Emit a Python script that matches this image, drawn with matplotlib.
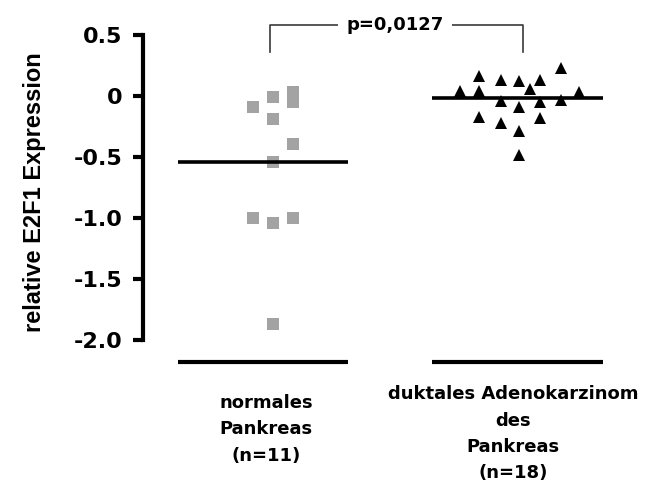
# Dot plot: relative E2F1 expression, normal pancreas vs ductal adenocarcinoma

import matplotlib
matplotlib.use("Agg")
import matplotlib.pyplot as plt

# Values
groups = [1, 2]
group_labels = ["normales\nPankreas\n(n=11)",
                "duktales Adenokarzinom\ndes\nPankreas\n(n=18)"]

normal_offset = [-0.08, 0.0, 0.08, 0.08, 0.0, 0.08, 0.0, -0.08, 0.0, 0.08, 0.0]
normal_values = [-0.09, -0.01, 0.03, -0.05, -0.19, -0.39, -0.54, -1.0, -1.04, -1.0, -1.87]

tumor_offset = [-0.16, -0.073, 0.0, 0.085, 0.17,
                -0.24, -0.16, 0.045, 0.244,
                -0.073, 0.085, 0.17, 0.0,
                -0.16, -0.073, 0.085, 0.0, 0.0]
tumor_values = [0.16, 0.13, 0.12, 0.13, 0.23,
                0.04, 0.04, 0.06, 0.03,
                -0.04, -0.05, -0.03, -0.09,
                -0.17, -0.22, -0.18, -0.29, -0.48]

group_means = [-0.54, -0.02]
yticks = [0.5, 0, -0.5, -1.0, -1.5, -2.0]
ytick_labels = ["0.5", "0", "-0.5", "-1.0", "-1.5", "-2.0"]
p_text = "p=0,0127"

fig = plt.figure(figsize=(6.46, 4.86), dpi=100)
ax = fig.add_axes([0.2214, 0.2453, 0.769, 0.7128])
ax.set_xlim(0.4715, 2.492)
ax.set_ylim(-2.22, 0.62)

# points
ax.plot([groups[0] + o for o in normal_offset], normal_values, "s",
        color="#a3a3a3", markersize=8, markeredgewidth=0, clip_on=False, zorder=3)
ax.plot([groups[1] + o for o in tumor_offset], tumor_values, "^",
        color="black", markersize=9, markeredgewidth=0, clip_on=False, zorder=3)

# mean lines and baseline segments
extents = [(-0.386, 0.305), (-0.354, 0.341)]
for g, m, (a, b) in zip(groups, group_means, extents):
    ax.plot([g + a, g + b], [m, m], color="black", lw=2.6, zorder=4,
            solid_capstyle="butt")
    ax.plot([g + a, g + b], [-2.18, -2.18], color="black", lw=3,
            clip_on=False, solid_capstyle="butt")

# significance bracket
bx = [groups[0] - 0.012, groups[0] - 0.012, groups[1] + 0.016, groups[1] + 0.016]
by = [0.36, 0.58, 0.58, 0.36]
ax.plot(bx, by, color="#3a3a3a", lw=1.2, clip_on=False)
ax.text(1.495, 0.58, p_text, ha="center", va="center", fontsize=13,
        fontweight="bold", family="DejaVu Sans",
        bbox=dict(facecolor="white", edgecolor="none", pad=6))

# axes styling
for s in ["top", "right", "bottom"]:
    ax.spines[s].set_visible(False)
ax.spines["left"].set_linewidth(3)
ax.spines["left"].set_bounds(-2.0, 0.5)
ax.set_xticks([])
ax.set_yticks(yticks)
ax.set_yticklabels(ytick_labels, fontsize=16, fontweight="bold", family="DejaVu Sans")
ax.tick_params(axis="y", length=7, width=3, pad=8)

fig.text(0.054, 0.605, "relative E2F1 Expression", rotation=90, ha="center",
         va="center", fontsize=17, fontweight="bold", family="Liberation Sans")

# group labels
fig.text(266 / 646, 0.1893, group_labels[0], ha="center", va="top",
         fontsize=13, fontweight="bold", family="DejaVu Sans", linespacing=1.6)
fig.text(513 / 646, 0.2075, group_labels[1], ha="center", va="top",
         fontsize=13, fontweight="bold", family="DejaVu Sans", linespacing=1.6)

fig.savefig("out.png", dpi=100, facecolor="white")
